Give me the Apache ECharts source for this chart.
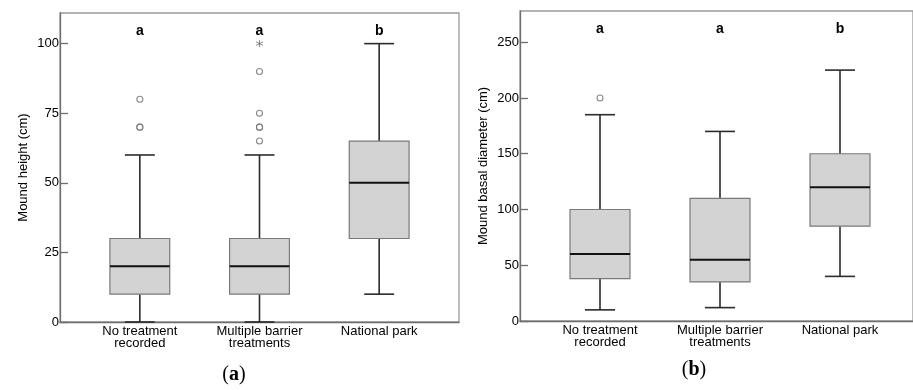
<!DOCTYPE html>
<html>
<head>
<meta charset="utf-8">
<script src="https://cdn.jsdelivr.net/npm/echarts@6/dist/echarts.min.js"></script>
<style>
  html, body { margin: 0; padding: 0; background: #fff; }
  #chart { width: 913px; height: 390px; }
</style>
</head>
<body>
<div id="chart"></div>
<script>
const categories = ['No treatment\nrecorded', 'Multiple barrier\ntreatments', 'National park'];

// [category index, whisker low, Q1, median, Q3, whisker high]
const heightBoxes = [
  [0, 0, 10, 20, 30, 60],
  [1, 0, 10, 20, 30, 60],
  [2, 10, 30, 50, 65, 100]
];
const heightOutliers = [[0, 70], [0, 70], [0, 80], [1, 65], [1, 70], [1, 70], [1, 75], [1, 90]];
const heightExtremes = [[1, 100]];
const heightLetters = ['a', 'a', 'b'];
const heightTicks = [0, 25, 50, 75, 100];

const diameterBoxes = [
  [0, 10, 38, 60, 100, 185],
  [1, 12, 35, 55, 110, 170],
  [2, 40, 85, 120, 150, 225]
];
const diameterOutliers = [[0, 200]];
const diameterExtremes = [];
const diameterLetters = ['a', 'a', 'b'];
const diameterTicks = [0, 50, 100, 150, 200, 250];

const FONT = '"Liberation Sans", Arial, sans-serif';
const starPath = 'path://M5,0L5,10M0.7,2.5L9.3,7.5M0.7,7.5L9.3,2.5';

function boxRenderer(letters) {
  return function (params, api) {
    const idx = api.value(0);
    const band = api.size([1, 0])[0];
    const halfBox = band * 0.25;
    const halfCap = band * 0.125;
    const lo = api.coord([idx, api.value(1)]);
    const q1 = api.coord([idx, api.value(2)]);
    const md = api.coord([idx, api.value(3)]);
    const q3 = api.coord([idx, api.value(4)]);
    const hi = api.coord([idx, api.value(5)]);
    const cx = lo[0];
    const whisker = { stroke: '#2b2b2b', lineWidth: 1.6 };
    return {
      type: 'group',
      children: [
        { type: 'line', shape: { x1: cx, y1: hi[1], x2: cx, y2: q3[1] }, style: whisker },
        { type: 'line', shape: { x1: cx, y1: q1[1], x2: cx, y2: lo[1] }, style: whisker },
        { type: 'line', shape: { x1: cx - halfCap, y1: hi[1], x2: cx + halfCap, y2: hi[1] }, style: whisker },
        { type: 'line', shape: { x1: cx - halfCap, y1: lo[1], x2: cx + halfCap, y2: lo[1] }, style: whisker },
        {
          type: 'rect',
          shape: { x: cx - halfBox, y: q3[1], width: halfBox * 2, height: q1[1] - q3[1] },
          style: { fill: '#d3d3d3', stroke: '#7a7a7a', lineWidth: 1.2 }
        },
        { type: 'line', shape: { x1: cx - halfBox, y1: md[1], x2: cx + halfBox, y2: md[1] }, style: { stroke: '#111', lineWidth: 2 } },
        {
          type: 'text',
          x: cx,
          y: params.coordSys.y + 18,
          style: { text: letters[params.dataIndex], font: 'bold 14px ' + FONT, fill: '#000', align: 'center', verticalAlign: 'middle' }
        }
      ]
    };
  };
}

function frameAxes(gridIndex) {
  const axisLine = { show: true, lineStyle: { color: '#6e6e6e', width: 1.3 } };
  return {
    x: { type: 'value', gridIndex, min: 0, max: 1, axisLine, axisTick: { show: false }, axisLabel: { show: false }, splitLine: { show: false } },
    y: { type: 'value', gridIndex, min: 0, max: 1, axisLine, axisTick: { show: false }, axisLabel: { show: false }, splitLine: { show: false } }
  };
}

function dataXAxis(gridIndex) {
  return {
    type: 'category', gridIndex, data: categories,
    axisLine: { show: false }, axisTick: { show: false },
    axisLabel: { color: '#000', fontFamily: FONT, fontSize: 13, lineHeight: 12.5, margin: 3, interval: 0 }
  };
}

function dataYAxis(gridIndex, name, max, ticks) {
  return {
    type: 'value', gridIndex, min: 0, max, offset: 20,
    name, nameLocation: 'middle', nameGap: 30,
    nameTextStyle: { color: '#000', fontFamily: FONT, fontSize: 13 },
    axisLine: { show: false },
    axisTick: { show: true, inside: true, length: 8, customValues: ticks, lineStyle: { color: '#6e6e6e', width: 1.3 } },
    axisLabel: { color: '#000', fontFamily: FONT, fontSize: 13, margin: 1, customValues: ticks },
    splitLine: { show: false }
  };
}

const frameA = frameAxes(0);
const frameB = frameAxes(2);

const option = {
  backgroundColor: '#fff',
  animation: false,
  grid: [
    { left: 60, right: 454, top: 13, bottom: 68, show: true, borderColor: '#9a9a9a', borderWidth: 1.3, backgroundColor: 'transparent' },
    { left: 80, right: 474, top: 13, bottom: 68 },
    { left: 520, right: -7, top: 11, bottom: 69, show: true, borderColor: '#9a9a9a', borderWidth: 1.3, backgroundColor: 'transparent' },
    { left: 540, right: 13, top: 11, bottom: 69 }
  ],
  xAxis: [frameA.x, dataXAxis(1), frameB.x, dataXAxis(3)],
  yAxis: [
    frameA.y,
    dataYAxis(1, 'Mound height (cm)', 111, heightTicks),
    frameB.y,
    dataYAxis(3, 'Mound basal diameter (cm)', 278, diameterTicks)
  ],
  series: [
    {
      type: 'custom', xAxisIndex: 1, yAxisIndex: 1,
      renderItem: boxRenderer(heightLetters),
      encode: { x: 0, y: [1, 2, 3, 4, 5] },
      data: heightBoxes
    },
    {
      type: 'scatter', xAxisIndex: 1, yAxisIndex: 1,
      symbol: 'circle', symbolSize: 6,
      itemStyle: { color: '#fff', borderColor: '#6a6a6a', borderWidth: 1.1 },
      data: heightOutliers
    },
    {
      type: 'scatter', xAxisIndex: 1, yAxisIndex: 1,
      symbol: starPath, symbolSize: 7,
      itemStyle: { color: 'none', borderColor: '#6a6a6a', borderWidth: 1 },
      data: heightExtremes
    },
    {
      type: 'custom', xAxisIndex: 3, yAxisIndex: 3,
      renderItem: boxRenderer(diameterLetters),
      encode: { x: 0, y: [1, 2, 3, 4, 5] },
      data: diameterBoxes
    },
    {
      type: 'scatter', xAxisIndex: 3, yAxisIndex: 3,
      symbol: 'circle', symbolSize: 6,
      itemStyle: { color: '#fff', borderColor: '#6a6a6a', borderWidth: 1.1 },
      data: diameterOutliers
    },
    {
      type: 'scatter', xAxisIndex: 3, yAxisIndex: 3,
      symbol: starPath, symbolSize: 7,
      itemStyle: { color: 'none', borderColor: '#6a6a6a', borderWidth: 1 },
      data: diameterExtremes
    }
  ],
  graphic: [
    {
      type: 'text', x: 234, y: 375,
      style: {
        text: '{p|(}{b|a}{p|)}', align: 'center', verticalAlign: 'middle',
        rich: {
          p: { fontFamily: '"Liberation Serif", serif', fontSize: 20, fill: '#000' },
          b: { fontFamily: '"Liberation Serif", serif', fontSize: 20, fontWeight: 'bold', fill: '#000' }
        }
      }
    },
    {
      type: 'text', x: 694, y: 370,
      style: {
        text: '{p|(}{b|b}{p|)}', align: 'center', verticalAlign: 'middle',
        rich: {
          p: { fontFamily: '"Liberation Serif", serif', fontSize: 20, fill: '#000' },
          b: { fontFamily: '"Liberation Serif", serif', fontSize: 20, fontWeight: 'bold', fill: '#000' }
        }
      }
    }
  ]
};

const chart = echarts.init(document.getElementById('chart'), null, { renderer: 'canvas' });
chart.setOption(option);
</script>
</body>
</html>
